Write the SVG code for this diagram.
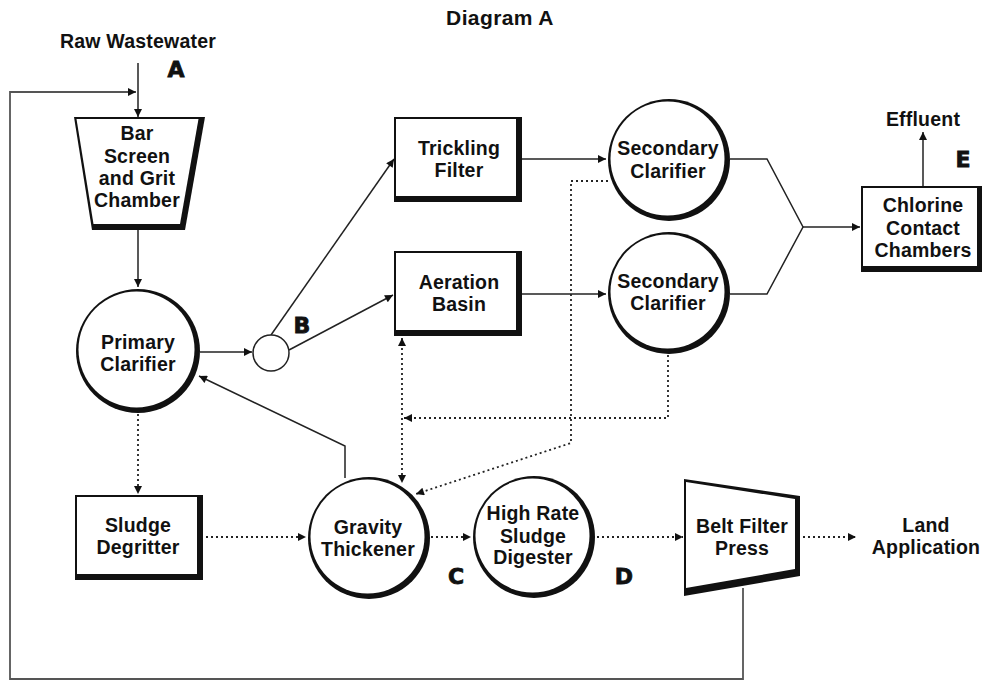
<svg xmlns="http://www.w3.org/2000/svg" width="982" height="681" viewBox="0 0 982 681">
<style>
text{font-family:"Liberation Sans",Arial,sans-serif;font-weight:bold;fill:#111;text-anchor:middle}
.t{font-size:19.5px;letter-spacing:0.2px}
.title{font-size:21px;letter-spacing:0.4px}
.lbl{font-family:"DejaVu Sans","Liberation Sans",sans-serif;font-size:22px;font-weight:bold;stroke:#111;stroke-width:0.8}
.sh{fill:#111}
.bg{fill:#fff}
.ln{fill:none;stroke:#222;stroke-width:1.5}
.gr{fill:none;stroke:#555;stroke-width:1.8}
.dt{fill:none;stroke:#222;stroke-width:1.8;stroke-dasharray:2 3}
</style>
<defs>
<marker id="ah" viewBox="0 0 10 10" refX="10" refY="5" markerWidth="10" markerHeight="8" markerUnits="userSpaceOnUse" orient="auto">
<path d="M0,0 L10,5 L0,10 z" fill="#111"/>
</marker>
<marker id="ahs" viewBox="0 0 10 10" refX="10" refY="5" markerWidth="10" markerHeight="8" markerUnits="userSpaceOnUse" orient="auto-start-reverse">
<path d="M0,0 L10,5 L0,10 z" fill="#111"/>
</marker>
</defs>
<rect width="982" height="681" fill="#fff"/>

<text class="title" x="500" y="25">Diagram A</text>

<g id="connectors">
<line class="ln" x1="138" y1="63" x2="138" y2="117" marker-end="url(#ah)"/>
<polyline class="gr" points="743,588 743,679 10,679 10,92 136,92" marker-end="url(#ah)"/>
<line class="ln" x1="138" y1="230" x2="138" y2="287" marker-end="url(#ah)"/>
<line class="ln" x1="200" y1="352" x2="252" y2="352" marker-end="url(#ah)"/>
<line class="ln" x1="271" y1="335" x2="394" y2="159" marker-end="url(#ah)"/>
<line class="ln" x1="289" y1="350" x2="393" y2="295" marker-end="url(#ah)"/>
<line class="ln" x1="522" y1="159" x2="606" y2="159" marker-end="url(#ah)"/>
<line class="ln" x1="522" y1="294" x2="606" y2="294" marker-end="url(#ah)"/>
<polyline class="ln" points="730,159 767,159 803,227 767,294 730,294"/>
<line class="ln" x1="803" y1="227" x2="860" y2="227" marker-end="url(#ah)"/>
<line class="ln" x1="923" y1="186" x2="923" y2="132" marker-end="url(#ah)"/>
<polyline class="ln" points="345,478 345,446 199,376" marker-end="url(#ah)"/>
<line class="dt" x1="138" y1="414" x2="138" y2="494" marker-end="url(#ah)"/>
<line class="dt" x1="206" y1="537" x2="306" y2="537" marker-end="url(#ah)"/>
<line class="dt" x1="402" y1="338" x2="402" y2="483" marker-start="url(#ahs)" marker-end="url(#ah)"/>
<polyline class="dt" points="668,355 668,418 404,418" marker-end="url(#ah)"/>
<polyline class="dt" points="608,181 571,181 571,443 416,494" marker-end="url(#ah)"/>
<line class="dt" x1="431" y1="537" x2="471" y2="537" marker-end="url(#ah)"/>
<line class="dt" x1="597" y1="537" x2="683" y2="537" marker-end="url(#ah)"/>
<line class="dt" x1="803" y1="537" x2="856" y2="537" marker-end="url(#ah)"/>
</g>

<g id="raw-wastewater">
<text class="t" x="138" y="48">Raw Wastewater</text>
<text class="lbl" x="176" y="77">A</text>
</g>

<g id="bar-screen">
<polygon class="sh" points="74,117 205,117 185,230 92,230"/>
<polygon class="bg" points="76.5,119 198.5,119 180,224 93.5,224"/>
<text class="t" x="137" y="140">Bar</text>
<text class="t" x="137" y="163">Screen</text>
<text class="t" x="137" y="185">and Grit</text>
<text class="t" x="137" y="207">Chamber</text>
</g>

<g id="primary-clarifier">
<circle class="sh" cx="138" cy="351" r="62"/>
<circle class="bg" cx="136.5" cy="349.5" r="58"/>
<text class="t" x="138" y="349">Primary</text>
<text class="t" x="138" y="371">Clarifier</text>
</g>

<g id="splitter">
<circle cx="271" cy="353" r="18" fill="#fff" stroke="#222" stroke-width="1.5"/>
<text class="lbl" x="302" y="333">B</text>
</g>

<g id="trickling-filter">
<rect class="sh" x="394" y="117" width="128" height="85"/>
<rect class="bg" x="396" y="119" width="120" height="77"/>
<text class="t" x="459" y="155">Trickling</text>
<text class="t" x="459" y="177">Filter</text>
</g>

<g id="aeration-basin">
<rect class="sh" x="394" y="251" width="128" height="85"/>
<rect class="bg" x="396" y="253" width="120" height="77"/>
<text class="t" x="459" y="289">Aeration</text>
<text class="t" x="459" y="311">Basin</text>
</g>

<g id="secondary-clarifier-1">
<circle class="sh" cx="669" cy="160" r="61"/>
<circle class="bg" cx="667.5" cy="158.5" r="57"/>
<text class="t" x="668" y="155">Secondary</text>
<text class="t" x="668" y="178">Clarifier</text>
</g>

<g id="secondary-clarifier-2">
<circle class="sh" cx="669" cy="293" r="61"/>
<circle class="bg" cx="667.5" cy="291.5" r="57"/>
<text class="t" x="668" y="288">Secondary</text>
<text class="t" x="668" y="310">Clarifier</text>
</g>

<g id="chlorine-contact">
<rect class="sh" x="861" y="186" width="121" height="86"/>
<rect class="bg" x="863" y="188" width="114" height="78"/>
<text class="t" x="923" y="212">Chlorine</text>
<text class="t" x="923" y="235">Contact</text>
<text class="t" x="923" y="257">Chambers</text>
</g>

<g id="effluent">
<text class="t" x="923" y="126">Effluent</text>
<text class="lbl" x="963" y="167">E</text>
</g>

<g id="sludge-degritter">
<rect class="sh" x="75" y="495" width="128" height="85"/>
<rect class="bg" x="77" y="497" width="120" height="77"/>
<text class="t" x="138" y="532">Sludge</text>
<text class="t" x="138" y="554">Degritter</text>
</g>

<g id="gravity-thickener">
<circle class="sh" cx="369" cy="538" r="61"/>
<circle class="bg" cx="367.5" cy="536.5" r="57"/>
<text class="t" x="368" y="534">Gravity</text>
<text class="t" x="368" y="556">Thickener</text>
<text class="lbl" x="456" y="584">C</text>
</g>

<g id="digester">
<circle class="sh" cx="534" cy="537" r="61"/>
<circle class="bg" cx="532.5" cy="535.5" r="57"/>
<text class="t" x="533" y="520">High Rate</text>
<text class="t" x="533" y="543">Sludge</text>
<text class="t" x="533" y="564">Digester</text>
<text class="lbl" x="624" y="584">D</text>
</g>

<g id="belt-filter-press">
<polygon class="sh" points="684,479 800,496 800,576 684,596"/>
<polygon class="bg" points="686,482 795,499 795,569 686,588"/>
<text class="t" x="742" y="533">Belt Filter</text>
<text class="t" x="742" y="555">Press</text>
</g>

<g id="land-application">
<text class="t" x="926" y="532">Land</text>
<text class="t" x="926" y="554">Application</text>
</g>
</svg>
